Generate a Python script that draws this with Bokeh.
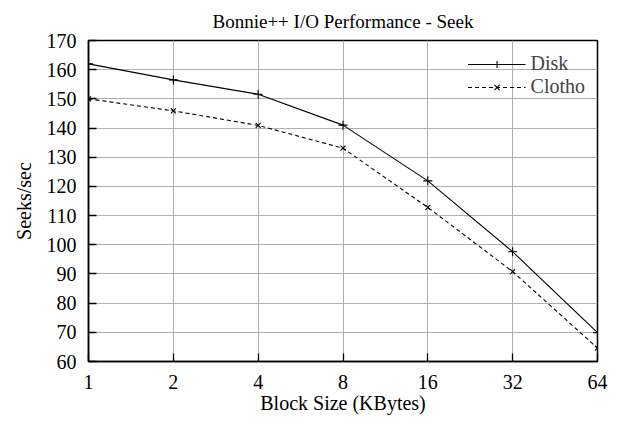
from bokeh.plotting import figure
from bokeh.models import (FixedTicker, BasicTickFormatter, Legend, LegendItem, Range1d)
from bokeh.embed import file_html
from bokeh.resources import INLINE

block_sizes = [1, 2, 4, 8, 16, 32, 64]
disk = [162, 156.5, 151.6, 141, 121.9, 97.6, 69.9]
clotho = [150, 145.9, 140.9, 133.1, 112.8, 90.8, 64.6]
y_ticks = [60, 70, 80, 90, 100, 110, 120, 130, 140, 150, 160, 170]

FONT = "Liberation Serif"
FS = "20px"

p = figure(width=609, height=418, x_axis_type="log",
           x_range=Range1d(1, 64), y_range=Range1d(60, 170),
           output_backend="svg", toolbar_location=None,
           title="Bonnie++ I/O Performance - Seek",
           min_border_left=88, min_border_right=12,
           min_border_top=40, min_border_bottom=57)

p.title.align = "center"
p.title.text_font = FONT
p.title.text_font_size = "19px"
p.title.text_font_style = "normal"
p.title.text_color = "black"
p.title.standoff = 17

p.outline_line_color = "black"
p.outline_line_width = 1.5

xt = FixedTicker(ticks=block_sizes, minor_ticks=[])
yt = FixedTicker(ticks=y_ticks, minor_ticks=[])

p.xaxis.ticker = xt
p.xaxis.formatter = BasicTickFormatter()
p.xaxis.axis_label = "Block Size (KBytes)"
p.yaxis.ticker = yt
p.yaxis.axis_label = "Seeks/sec"

for ax in [p.xaxis[0], p.yaxis[0]]:
    ax.major_tick_in = 8
    ax.major_tick_out = 0
    ax.minor_tick_in = 0
    ax.minor_tick_out = 0
    ax.axis_line_color = "black"
    ax.axis_line_width = 1.5
    ax.major_tick_line_color = "black"
    ax.major_tick_line_width = 1.3
    ax.major_label_text_font = FONT
    ax.major_label_text_font_size = FS
    ax.major_label_text_color = "black"
    ax.axis_label_text_font = FONT
    ax.axis_label_text_font_size = FS
    ax.axis_label_text_font_style = "normal"
    ax.axis_label_text_color = "black"
p.xaxis.major_label_standoff = 13
p.yaxis.major_label_standoff = 12
p.xaxis.axis_label_standoff = 0
p.yaxis.axis_label_standoff = 9

p.xgrid.ticker = xt
p.ygrid.ticker = yt
p.grid.grid_line_color = "#b0b0b0"
p.grid.grid_line_width = 1

l1 = p.line(block_sizes, disk, line_color="black", line_width=1.1)
m1 = p.scatter(block_sizes, disk, marker="cross", size=9, line_color="black", line_width=1.1)
l2 = p.line(block_sizes, clotho, line_color="black", line_width=1.1, line_dash="4 3")
m2 = p.scatter(block_sizes, clotho, marker="x", size=7, line_color="black", line_width=1.1)

legend = Legend(items=[LegendItem(label="Disk", renderers=[l1, m1]),
                       LegendItem(label="Clotho", renderers=[l2, m2])],
                location="top_right", border_line_color=None,
                background_fill_alpha=0, label_text_font=FONT,
                label_text_font_size=FS, glyph_width=58, glyph_height=18,
                label_height=18, spacing=0, padding=2, margin=12)
p.add_layout(legend)

open("out.html", "w").write(file_html(p, INLINE))
